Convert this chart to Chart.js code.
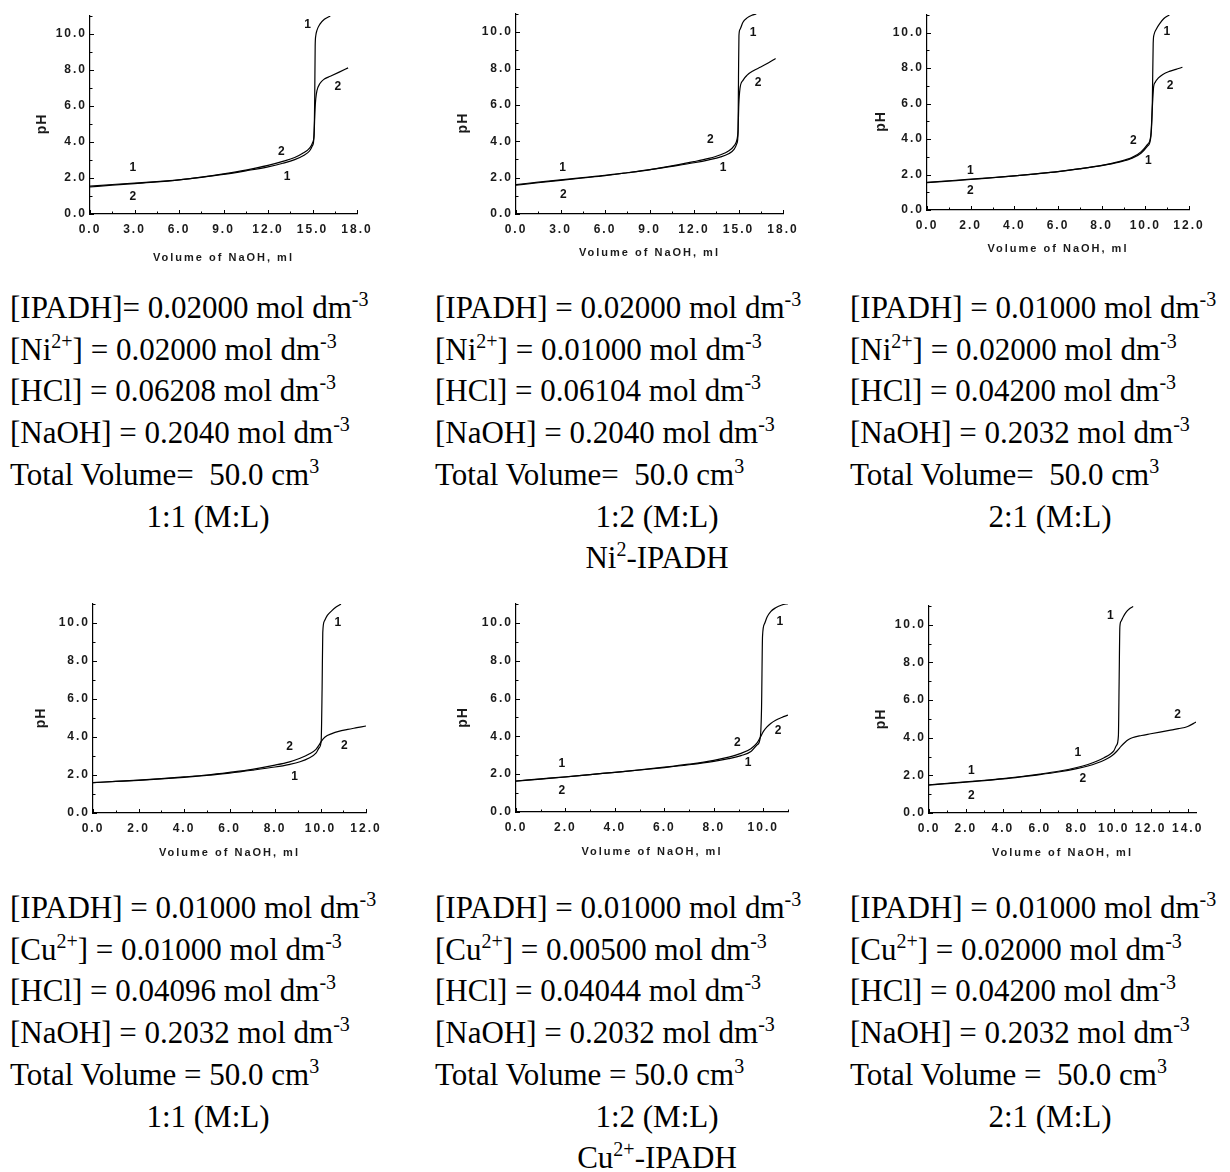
<!DOCTYPE html>
<html>
<head>
<meta charset="utf-8">
<script src="https://cdn.jsdelivr.net/npm/chart.js@4.4.1/dist/chart.umd.min.js"></script>
<style>
  body { margin: 0; background: #fff; }
  #page { position: relative; width: 1230px; height: 1172px; overflow: hidden; }
  .plot { position: absolute; }
  .txt { position: absolute; font-family: "Liberation Serif", "Times New Roman", serif; font-size: 31px; line-height: 41.7px; color: #000; white-space: nowrap; }
  .txt sup { font-size: 20px; line-height: 0; vertical-align: baseline; position: relative; top: -12px; }
  .mid { text-align: center; }
</style>
</head>
<body>
<div id="page">
  <canvas id="niA" class="plot"></canvas>
  <canvas id="niB" class="plot"></canvas>
  <canvas id="niC" class="plot"></canvas>
  <canvas id="cuA" class="plot"></canvas>
  <canvas id="cuB" class="plot"></canvas>
  <canvas id="cuC" class="plot"></canvas>

  <div class="txt" style="left:10px;top:287px;width:396px">
    <div>[IPADH]= 0.02000 mol dm<sup>-3</sup></div>
    <div>[Ni<sup>2+</sup>] = 0.02000 mol dm<sup>-3</sup></div>
    <div>[HCl] = 0.06208 mol dm<sup>-3</sup></div>
    <div>[NaOH] = 0.2040 mol dm<sup>-3</sup></div>
    <div>Total Volume=&nbsp; 50.0 cm<sup>3</sup></div>
    <div class="mid">1:1 (M:L)</div>
  </div>
  <div class="txt" style="left:435px;top:287px;width:444px">
    <div>[IPADH] = 0.02000 mol dm<sup>-3</sup></div>
    <div>[Ni<sup>2+</sup>] = 0.01000 mol dm<sup>-3</sup></div>
    <div>[HCl] = 0.06104 mol dm<sup>-3</sup></div>
    <div>[NaOH] = 0.2040 mol dm<sup>-3</sup></div>
    <div>Total Volume=&nbsp; 50.0 cm<sup>3</sup></div>
    <div class="mid">1:2 (M:L)</div>
    <div class="mid">Ni<sup>2</sup>-IPADH</div>
  </div>
  <div class="txt" style="left:850px;top:287px;width:400px">
    <div>[IPADH] = 0.01000 mol dm<sup>-3</sup></div>
    <div>[Ni<sup>2+</sup>] = 0.02000 mol dm<sup>-3</sup></div>
    <div>[HCl] = 0.04200 mol dm<sup>-3</sup></div>
    <div>[NaOH] = 0.2032 mol dm<sup>-3</sup></div>
    <div>Total Volume=&nbsp; 50.0 cm<sup>3</sup></div>
    <div class="mid">2:1 (M:L)</div>
  </div>

  <div class="txt" style="left:10px;top:887px;width:396px">
    <div>[IPADH] = 0.01000 mol dm<sup>-3</sup></div>
    <div>[Cu<sup>2+</sup>] = 0.01000 mol dm<sup>-3</sup></div>
    <div>[HCl] = 0.04096 mol dm<sup>-3</sup></div>
    <div>[NaOH] = 0.2032 mol dm<sup>-3</sup></div>
    <div>Total Volume = 50.0 cm<sup>3</sup></div>
    <div class="mid">1:1 (M:L)</div>
  </div>
  <div class="txt" style="left:435px;top:887px;width:444px">
    <div>[IPADH] = 0.01000 mol dm<sup>-3</sup></div>
    <div>[Cu<sup>2+</sup>] = 0.00500 mol dm<sup>-3</sup></div>
    <div>[HCl] = 0.04044 mol dm<sup>-3</sup></div>
    <div>[NaOH] = 0.2032 mol dm<sup>-3</sup></div>
    <div>Total Volume = 50.0 cm<sup>3</sup></div>
    <div class="mid">1:2 (M:L)</div>
    <div class="mid">Cu<sup>2+</sup>-IPADH</div>
  </div>
  <div class="txt" style="left:850px;top:887px;width:400px">
    <div>[IPADH] = 0.01000 mol dm<sup>-3</sup></div>
    <div>[Cu<sup>2+</sup>] = 0.02000 mol dm<sup>-3</sup></div>
    <div>[HCl] = 0.04200 mol dm<sup>-3</sup></div>
    <div>[NaOH] = 0.2032 mol dm<sup>-3</sup></div>
    <div>Total Volume =&nbsp; 50.0 cm<sup>3</sup></div>
    <div class="mid">2:1 (M:L)</div>
  </div>
</div>

<script>
// ---- data: volume of NaOH (ml) and pH, curve 1 and curve 2 for each titration ----

// Ni2+ 1:1
const niA_vol1 = [0, 1.5, 3, 4.5, 6, 7.5, 9, 10.5, 12, 13, 13.8, 14.4, 14.8, 15.0, 15.1, 15.15, 15.18, 15.22, 15.3, 15.5, 15.8, 16.2];
const niA_ph1  = [1.55, 1.64, 1.72, 1.8, 1.9, 2.04, 2.2, 2.4, 2.62, 2.82, 3.02, 3.25, 3.5, 3.8, 4.3, 6.5, 9.3, 9.9, 10.2, 10.55, 10.82, 11.0];
const niA_vol2 = [0, 1.5, 3, 4.5, 6, 7.5, 9, 10.5, 12, 13, 13.8, 14.4, 14.8, 15.0, 15.1, 15.17, 15.22, 15.3, 15.5, 15.8, 16.2, 16.8, 17.4];
const niA_ph2  = [1.5, 1.6, 1.69, 1.78, 1.9, 2.05, 2.23, 2.44, 2.7, 2.92, 3.14, 3.4, 3.66, 3.95, 4.35, 5.8, 6.4, 6.85, 7.25, 7.5, 7.65, 7.88, 8.12];
const niA_tagX = [2.88, 2.88, 12.9, 13.28, 14.67, 16.7];
const niA_tagY = [2.56, 0.98, 3.48, 2.06, 10.52, 7.06];
const niA_tag  = ['1', '2', '2', '1', '1', '2'];

// Ni2+ 1:2
const niB_vol1 = [0, 1.5, 3, 4.5, 6, 7.5, 9, 10.5, 12, 13, 13.8, 14.3, 14.7, 14.9, 14.97, 15.0, 15.03, 15.1, 15.3, 15.6, 15.9, 16.2];
const niB_ph1  = [1.62, 1.75, 1.88, 2.0, 2.12, 2.27, 2.43, 2.62, 2.82, 2.98, 3.14, 3.3, 3.55, 3.9, 4.5, 7.5, 9.8, 10.15, 10.55, 10.8, 10.93, 11.0];
const niB_vol2 = [0, 1.5, 3, 4.5, 6, 7.5, 9, 10.5, 12, 13, 13.8, 14.3, 14.7, 14.9, 14.97, 15.02, 15.1, 15.3, 15.6, 16.0, 16.5, 17.0, 17.5];
const niB_ph2  = [1.58, 1.72, 1.85, 1.98, 2.11, 2.27, 2.44, 2.65, 2.88, 3.06, 3.26, 3.45, 3.75, 4.1, 4.6, 6.0, 6.9, 7.35, 7.65, 7.88, 8.08, 8.3, 8.55];
const niB_tagX = [3.14, 3.19, 13.1, 13.96, 15.98, 16.32];
const niB_tagY = [2.53, 1.06, 4.08, 2.53, 9.95, 7.23];
const niB_tag  = ['1', '2', '2', '1', '1', '2'];

// Ni2+ 2:1
const niC_vol1 = [0, 1, 2, 3, 4, 5, 6, 7, 8, 8.8, 9.4, 9.8, 10.1, 10.25, 10.32, 10.36, 10.4, 10.5, 10.65, 10.85, 11.1];
const niC_ph1  = [1.56, 1.65, 1.74, 1.83, 1.93, 2.04, 2.17, 2.32, 2.5, 2.7, 2.92, 3.2, 3.6, 4.1, 6.0, 9.4, 9.9, 10.2, 10.5, 10.8, 11.0];
const niC_vol2 = [0, 1, 2, 3, 4, 5, 6, 7, 8, 8.8, 9.4, 9.8, 10.1, 10.25, 10.33, 10.38, 10.45, 10.6, 10.8, 11.1, 11.4, 11.7];
const niC_ph2  = [1.54, 1.63, 1.72, 1.82, 1.92, 2.04, 2.17, 2.33, 2.52, 2.73, 2.97, 3.28, 3.7, 4.2, 6.0, 6.95, 7.2, 7.45, 7.65, 7.82, 7.93, 8.05];
const niC_tagX = [1.99, 1.99, 9.45, 10.14, 10.98, 11.13];
const niC_tagY = [2.22, 1.09, 3.92, 2.79, 10.04, 7.02];
const niC_tag  = ['1', '2', '2', '1', '1', '2'];

// Cu2+ 1:1
const cuA_vol1 = [0, 1, 2, 3, 4, 5, 6, 7, 8, 8.6, 9.1, 9.5, 9.8, 9.95, 10.03, 10.07, 10.1, 10.17, 10.3, 10.5, 10.7, 10.9];
const cuA_ph1  = [1.6, 1.66, 1.72, 1.8, 1.88, 1.98, 2.1, 2.25, 2.42, 2.55, 2.7, 2.9, 3.15, 3.45, 3.8, 6.5, 9.5, 10.1, 10.4, 10.65, 10.85, 11.0];
const cuA_vol2 = [0, 1, 2, 3, 4, 5, 6, 7, 8, 8.6, 9.1, 9.5, 9.8, 9.95, 10.05, 10.2, 10.5, 10.8, 11.2, 11.6, 12.0];
const cuA_ph2  = [1.6, 1.66, 1.73, 1.81, 1.9, 2.0, 2.14, 2.3, 2.52, 2.68, 2.88, 3.1, 3.35, 3.6, 3.8, 4.0, 4.18, 4.3, 4.4, 4.49, 4.58];
const cuA_tagX = [8.64, 8.86, 10.76, 11.05];
const cuA_tagY = [3.47, 1.89, 10.0, 3.56];
const cuA_tag  = ['2', '1', '1', '2'];

// Cu2+ 1:2
const cuB_vol1 = [0, 1, 2, 3, 4, 5, 6, 7, 8, 8.6, 9.1, 9.5, 9.75, 9.88, 9.93, 9.97, 10.05, 10.15, 10.3, 10.5, 10.75, 11.0];
const cuB_ph1  = [1.64, 1.75, 1.86, 1.98, 2.1, 2.22, 2.35, 2.5, 2.68, 2.82, 2.98, 3.2, 3.55, 3.95, 5.5, 9.3, 9.95, 10.3, 10.6, 10.8, 10.95, 11.02];
const cuB_vol2 = [0, 1, 2, 3, 4, 5, 6, 7, 8, 8.6, 9.1, 9.5, 9.75, 9.9, 10.0, 10.15, 10.3, 10.5, 10.75, 11.0];
const cuB_ph2  = [1.63, 1.74, 1.85, 1.98, 2.1, 2.23, 2.37, 2.53, 2.73, 2.9, 3.1, 3.35, 3.65, 4.0, 4.25, 4.5, 4.68, 4.85, 5.0, 5.12];
const cuB_tagX = [1.85, 1.85, 8.95, 9.39, 10.67, 10.6];
const cuB_tagY = [2.56, 1.11, 3.65, 2.59, 10.05, 4.29];
const cuB_tag  = ['1', '2', '2', '1', '1', '2'];

// Cu2+ 2:1
const cuC_vol1 = [0, 1, 2, 3, 4, 5, 6, 7, 8, 8.6, 9.1, 9.5, 9.8, 10.0, 10.15, 10.25, 10.29, 10.33, 10.4, 10.5, 10.65, 10.85, 11.05];
const cuC_ph1  = [1.5, 1.58, 1.66, 1.74, 1.83, 1.94, 2.07, 2.22, 2.42, 2.58, 2.76, 2.95, 3.12, 3.3, 3.6, 4.1, 7.0, 9.9, 10.2, 10.4, 10.65, 10.85, 10.97];
const cuC_vol2 = [0, 1, 2, 3, 4, 5, 6, 7, 8, 8.6, 9.1, 9.5, 9.8, 10.0, 10.2, 10.4, 10.6, 10.8, 11.0, 11.5, 12.0, 12.5, 13.0, 13.5, 14.0, 14.45];
const cuC_ph2  = [1.48, 1.56, 1.64, 1.72, 1.81, 1.92, 2.04, 2.18, 2.36, 2.5, 2.66, 2.82, 2.98, 3.12, 3.32, 3.55, 3.75, 3.9, 4.0, 4.12, 4.21, 4.3, 4.39, 4.48, 4.6, 4.83];
const cuC_tagX = [2.29, 2.29, 8.05, 8.32, 9.82, 13.46];
const cuC_tagY = [2.27, 0.94, 3.19, 1.82, 10.5, 5.22];
const cuC_tag  = ['1', '2', '1', '2', '1', '2'];

// x axis limits and tick steps
const xMaxes  = { niA: 18, niB: 18, niC: 12, cuA: 12, cuB: 11, cuC: 14.45 };
const xSteps  = { niA: 3, niB: 3, niC: 2, cuA: 2, cuB: 2, cuC: 2 };
const yTicks  = [0, 2, 4, 6, 8, 10];

// ---- layout (page pixels of each plot frame) ----
const frames = {
  niA: { left: 90,    right: 356.7, top: 16.3,  bottom: 214.3, phGap: 48, titleGap: 44 },
  niB: { left: 516,   right: 783.3, top: 14.1,  bottom: 214.3, phGap: 53, titleGap: 39 },
  niC: { left: 927.3, right: 1189,  top: 14.6,  bottom: 209.3, phGap: 46, titleGap: 39 },
  cuA: { left: 93.3,  right: 366.7, top: 603.7, bottom: 812.7, phGap: 52, titleGap: 40 },
  cuB: { left: 516,   right: 788,   top: 603.8, bottom: 811.7, phGap: 53, titleGap: 40 },
  cuC: { left: 929.3, right: 1196.7, top: 605.5, bottom: 812.7, phGap: 48, titleGap: 40 }
};

const PADL = 70, PADT = 12, PADR = 25, PADB = 52;
const tickFont = { family: 'Liberation Sans', weight: 'bold', size: 12 };
const titleFont = { family: 'Liberation Sans', weight: 'bold', size: 11 };

function pts(xs, ys) {
  return xs.map((v, i) => ({ x: v, y: ys[i] }));
}

// inward major/minor ticks, the rotated pH title and the 1/2 curve tags
const axisDeco = {
  id: 'axisDeco',
  beforeDraw(chart) {
    chart.ctx.letterSpacing = '2px';
  },
  afterDraw(chart, args, opts) {
    const { ctx, chartArea: a } = chart;
    const xs = chart.scales.x, ys = chart.scales.y;
    ctx.save();
    ctx.strokeStyle = '#000';
    ctx.lineWidth = 1;
    const xMinor = opts.xStep / 2;
    for (let k = 0; k * xMinor <= xs.max + 1e-6; k++) {
      const px = Math.round(xs.getPixelForValue(k * xMinor)) + 0.5;
      const len = k % 2 === 0 ? 4 : 2.5;
      ctx.beginPath(); ctx.moveTo(px, a.bottom); ctx.lineTo(px, a.bottom - len); ctx.stroke();
    }
    for (let v = 0; v <= ys.max + 1e-6; v += 1) {
      const py = Math.round(ys.getPixelForValue(v)) + 0.5;
      const len = v % 2 === 0 ? 4 : 2.5;
      ctx.beginPath(); ctx.moveTo(a.left, py); ctx.lineTo(a.left + len, py); ctx.stroke();
    }

    ctx.letterSpacing = '1px';
    ctx.fillStyle = '#1a1a1a';
    ctx.font = 'bold 14px "Liberation Sans"';
    ctx.textAlign = 'center';
    ctx.textBaseline = 'middle';
    ctx.translate(a.left - opts.phGap, ys.getPixelForValue(5));
    ctx.rotate(-Math.PI / 2);
    ctx.fillText('pH', 0, 0);
    ctx.restore();

    ctx.save();
    ctx.letterSpacing = '0px';
    ctx.fillStyle = '#111';
    ctx.font = 'bold 12px "Liberation Sans"';
    ctx.textAlign = 'center';
    ctx.textBaseline = 'middle';
    opts.tags.forEach((t, i) => {
      ctx.fillText(t, xs.getPixelForValue(opts.tagX[i]), ys.getPixelForValue(opts.tagY[i]));
    });
    ctx.restore();
  }
};

function makeChart(key, v1, p1, v2, p2, tagX, tagY, tags) {
  const f = frames[key];
  const cv = document.getElementById(key);
  const w = Math.round(f.right - f.left) + PADL + PADR;
  const h = Math.round(f.bottom - f.top) + PADT + PADB;
  cv.width = w; cv.height = h;
  cv.style.left = Math.round(f.left - PADL) + 'px';
  cv.style.top = Math.round(f.top - PADT) + 'px';
  cv.style.width = w + 'px'; cv.style.height = h + 'px';

  const line = {
    borderColor: '#000', borderWidth: 1.2, pointRadius: 0, fill: false,
    cubicInterpolationMode: 'monotone'
  };

  new Chart(cv, {
    type: 'line',
    data: {
      datasets: [
        Object.assign({ data: pts(v1, p1) }, line),
        Object.assign({ data: pts(v2, p2) }, line)
      ]
    },
    options: {
      responsive: false,
      animation: false,
      devicePixelRatio: 1,
      layout: { padding: { left: 0, top: PADT, right: PADR, bottom: 0 } },
      plugins: {
        legend: { display: false },
        tooltip: { enabled: false },
        axisDeco: { xStep: xSteps[key], phGap: f.phGap, tagX: tagX, tagY: tagY, tags: tags }
      },
      scales: {
        x: {
          type: 'linear', min: 0, max: xMaxes[key],
          afterFit: s => { s.height = PADB; },
          grid: { display: false, drawTicks: false },
          border: { display: true, color: '#000', width: 1.2 },
          ticks: {
            stepSize: xSteps[key], includeBounds: false, padding: 8, color: '#1a1a1a',
            font: tickFont, maxRotation: 0, autoSkip: false,
            callback: v => Number(v).toFixed(1)
          },
          title: {
            display: true, text: 'Volume of NaOH, ml', color: '#1a1a1a', font: titleFont,
            padding: { top: 0, bottom: PADB - f.titleGap - 6.6 }
          }
        },
        y: {
          type: 'linear', min: 0, max: 11,
          afterFit: s => { s.width = PADL; },
          grid: { display: false, drawTicks: false },
          border: { display: true, color: '#000', width: 1.2 },
          ticks: {
            stepSize: 2, includeBounds: false, padding: 3, color: '#1a1a1a', font: tickFont,
            callback: v => yTicks.includes(v) ? Number(v).toFixed(1) : ''
          },
          title: { display: false }
        }
      }
    },
    plugins: [axisDeco]
  });
}

makeChart('niA', niA_vol1, niA_ph1, niA_vol2, niA_ph2, niA_tagX, niA_tagY, niA_tag);
makeChart('niB', niB_vol1, niB_ph1, niB_vol2, niB_ph2, niB_tagX, niB_tagY, niB_tag);
makeChart('niC', niC_vol1, niC_ph1, niC_vol2, niC_ph2, niC_tagX, niC_tagY, niC_tag);
makeChart('cuA', cuA_vol1, cuA_ph1, cuA_vol2, cuA_ph2, cuA_tagX, cuA_tagY, cuA_tag);
makeChart('cuB', cuB_vol1, cuB_ph1, cuB_vol2, cuB_ph2, cuB_tagX, cuB_tagY, cuB_tag);
makeChart('cuC', cuC_vol1, cuC_ph1, cuC_vol2, cuC_ph2, cuC_tagX, cuC_tagY, cuC_tag);
</script>
</body>
</html>
